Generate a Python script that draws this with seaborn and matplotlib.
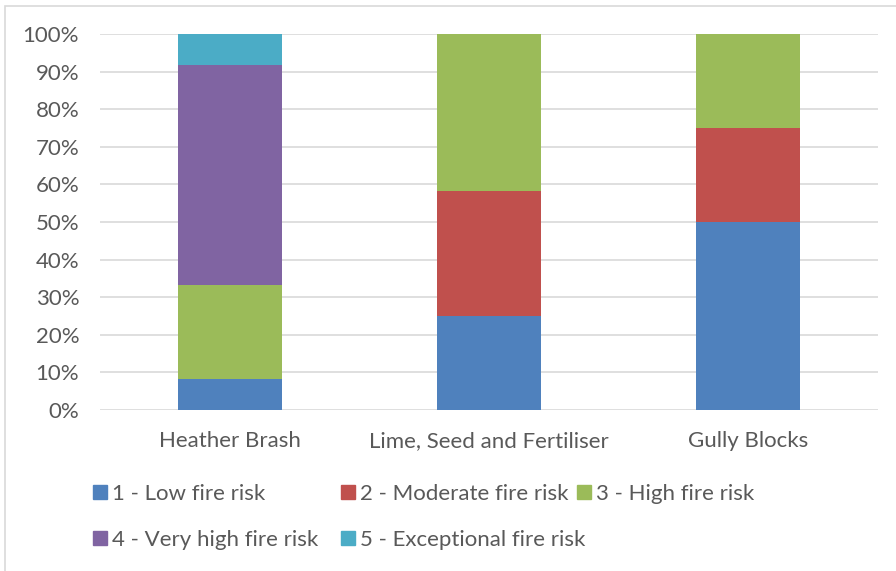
import matplotlib
matplotlib.use("Agg")
import matplotlib.pyplot as plt
import matplotlib.patches as mpatches
import seaborn as sns
import pandas as pd
import numpy as np

# share of sites per fire-risk class (%)
categories = ["Heather Brash", "Lime, Seed and Fertiliser", "Gully Blocks"]
risk_labels = ["1 - Low fire risk", "2 - Moderate fire risk", "3 - High fire risk",
               "4 - Very high fire risk", "5 - Exceptional fire risk"]
low = [8.33, 25.0, 50.0]
moderate = [0.0, 33.33, 25.0]
high = [25.0, 41.67, 25.0]
very_high = [58.33, 0.0, 0.0]
exceptional = [8.34, 0.0, 0.0]

colors = ["#4F81BD", "#C0504D", "#9BBB59", "#8064A2", "#4BACC6"]

df = pd.DataFrame({"category": categories, risk_labels[0]: low, risk_labels[1]: moderate,
                   risk_labels[2]: high, risk_labels[3]: very_high, risk_labels[4]: exceptional})
cum = df[risk_labels].cumsum(axis=1)

sns.set_style("white")
plt.rcParams["font.family"] = ["Lato", "DejaVu Sans"]

fig = plt.figure(figsize=(8.96, 5.71), dpi=100)
ax = fig.add_axes([100 / 896, 1 - 410 / 571, 778 / 896, 376 / 571])

# draw cumulative tops first so lower segments sit on top
for lab, col in reversed(list(zip(risk_labels, colors))):
    sns.barplot(x=df["category"], y=cum[lab], color=col, width=0.4, ax=ax,
                saturation=1, zorder=3, linewidth=0)

ax.set_ylim(0, 100)
ax.set_xlim(-0.5, 2.5)
ax.set_yticks(np.arange(0, 101, 10))
ax.set_yticklabels([f"{v}%" for v in range(0, 101, 10)])
ax.yaxis.grid(True, color="#D9D9D9", linewidth=1.2, zorder=0)
ax.set_axisbelow(True)
for s in ax.spines.values():
    s.set_visible(False)
ax.set_xlabel("")
ax.set_ylabel("")
ax.tick_params(axis="both", length=0, labelsize=16, colors="#595959")
ax.tick_params(axis="y", pad=15)
ax.tick_params(axis="x", pad=15)

# legend entries placed like the Excel layout
pos = [(93, 494), (341, 494), (577, 494), (93, 540), (341, 540)]
for lab, col, (px, py) in zip(risk_labels, colors, pos):
    h = mpatches.Patch(color=col, label=lab)
    fig.legend(handles=[h], loc="center left", bbox_to_anchor=(px / 896, 1 - py / 571),
               frameon=False, fontsize=16, handlelength=0.62, handleheight=0.62,
               handletextpad=0.25, borderpad=0, borderaxespad=0, labelcolor="#595959")

# chart area border (left and top visible)
fig.patches.append(mpatches.Rectangle((5 / 896, -0.1), 1.2, 1 - 5.5 / 571 + 0.1,
                                      transform=fig.transFigure, fill=False,
                                      edgecolor="#D9D9D9", linewidth=1.2))

fig.savefig("out.png", dpi=100)
